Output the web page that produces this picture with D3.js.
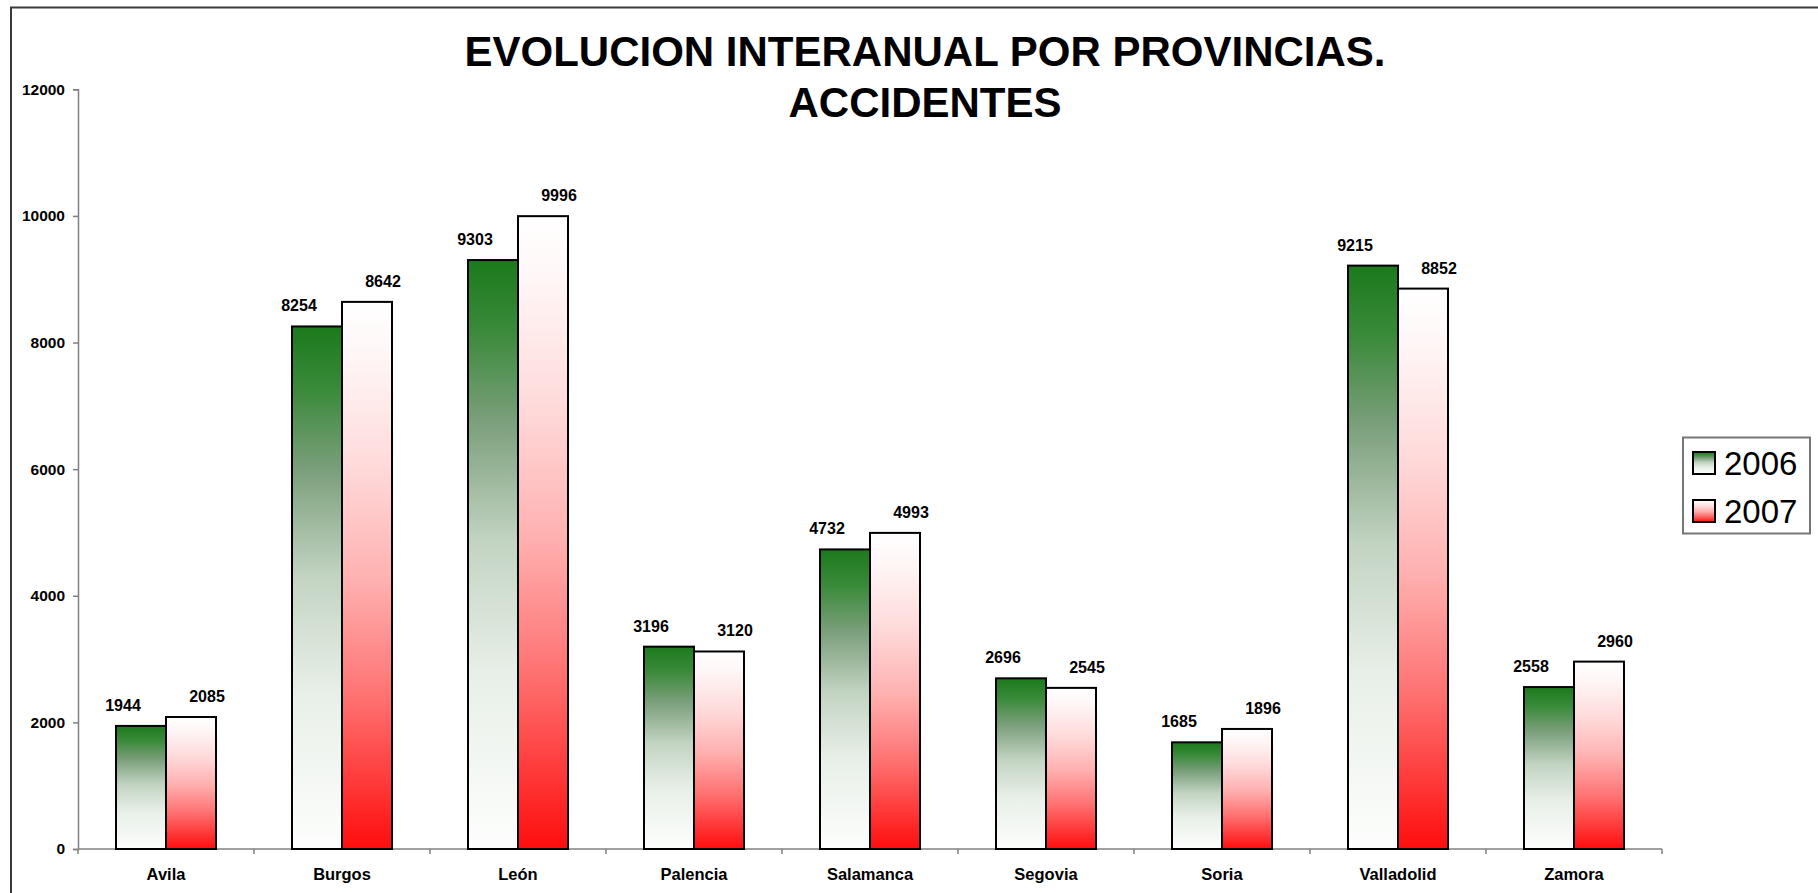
<!DOCTYPE html>
<html>
<head>
<meta charset="utf-8">
<script src="https://cdn.jsdelivr.net/npm/d3@7"></script>
<style>
  html, body { margin: 0; padding: 0; background: #ffffff; }
  svg { display: block; }
  text { font-family: "Liberation Sans", Arial, sans-serif; }
</style>
</head>
<body>
<svg id="chart" width="1818" height="893"></svg>
<script>
const categories = ["Avila", "Burgos", "León", "Palencia", "Salamanca", "Segovia", "Soria", "Valladolid", "Zamora"];
const seriesNames = ["2006", "2007"];
const values2006 = [1944, 8254, 9303, 3196, 4732, 2696, 1685, 9215, 2558];
const values2007 = [2085, 8642, 9996, 3120, 4993, 2545, 1896, 8852, 2960];
const yTicks = [0, 2000, 4000, 6000, 8000, 10000, 12000];
const titleLines = ["EVOLUCION INTERANUAL POR PROVINCIAS.", "ACCIDENTES"];

const svg = d3.select("#chart");
const W = 1818, H = 893;

// gradients
const defs = svg.append("defs");
function makeGrad(id, stops) {
  const g = defs.append("linearGradient").attr("id", id)
    .attr("x1", 0).attr("y1", 0).attr("x2", 0).attr("y2", 1);
  stops.forEach(s => g.append("stop").attr("offset", s[0]).attr("stop-color", s[1]));
}
makeGrad("grad2006", [["0%", "#1b7a1b"], ["12%", "#3a8a3a"], ["27%", "#7a9e7a"],
                      ["48%", "#c3d4c3"], ["70%", "#e8efe8"], ["100%", "#fdfefd"]]);
makeGrad("grad2007", [["0%", "#ffffff"], ["10%", "#fff6f6"], ["30%", "#ffdada"],
                      ["51%", "#ffb0b0"], ["72%", "#ff7272"], ["100%", "#ff0d0d"]]);
const fills = {"2006": "url(#grad2006)", "2007": "url(#grad2007)"};

// chart area border (left and top visible)
svg.append("rect").attr("x", 11).attr("y", 7.5).attr("width", W + 20).attr("height", H + 20)
  .attr("fill", "none").attr("stroke", "#3a3a3a").attr("stroke-width", 2);

// scales
const x0 = d3.scaleBand().domain(categories).range([78, 1662]).paddingInner(0).paddingOuter(0);
const x1 = d3.scaleBand().domain(seriesNames).range([0, x0.bandwidth()]).paddingInner(0).paddingOuter(0.76);
const y = d3.scaleLinear().domain([0, 12000]).range([849, 89.3]);

// title
svg.append("g").selectAll("text").data(titleLines).join("text")
  .attr("x", 925).attr("y", (d, i) => 66 + i * 51)
  .attr("text-anchor", "middle")
  .attr("font-size", 42).attr("font-weight", "bold").attr("fill", "#000")
  .text(d => d);

// y axis
const yAxis = d3.axisLeft(y).tickValues(yTicks).tickSize(5).tickPadding(8).tickFormat(d3.format("d"));
const gy = svg.append("g").attr("transform", "translate(78,0)").call(yAxis);
gy.select(".domain").attr("stroke", "#808080").attr("stroke-width", 1.5);
gy.selectAll(".tick line").attr("stroke", "#808080").attr("stroke-width", 1.5);
gy.selectAll(".tick text").attr("font-size", 15.5).attr("font-weight", "bold").attr("fill", "#000")
  .style("font-family", "'Liberation Sans', Arial, sans-serif");

// x axis: domain line plus ticks at band boundaries
const gx = svg.append("g").attr("transform", "translate(0,849)");
gx.append("line").attr("x1", 78).attr("x2", 1662).attr("y1", 0).attr("y2", 0)
  .attr("stroke", "#808080").attr("stroke-width", 1.5);
const boundaries = categories.map(c => x0(c)).concat([x0(categories[categories.length - 1]) + x0.bandwidth()]);
gx.selectAll("line.tk").data(boundaries).join("line").attr("class", "tk")
  .attr("x1", d => d).attr("x2", d => d).attr("y1", 0).attr("y2", 5)
  .attr("stroke", "#808080").attr("stroke-width", 1.5);
gx.selectAll("text").data(categories).join("text")
  .attr("x", d => x0(d) + x0.bandwidth() / 2).attr("y", 31)
  .attr("text-anchor", "middle").attr("font-size", 16.5).attr("font-weight", "bold").attr("fill", "#000")
  .text(d => d);

// bars
const rows = categories.map((c, i) => ({cat: c, vals: [
  {s: "2006", v: values2006[i]}, {s: "2007", v: values2007[i]}]}));
const groups = svg.append("g").selectAll("g").data(rows).join("g")
  .attr("transform", d => `translate(${x0(d.cat)},0)`);
groups.selectAll("rect").data(d => d.vals).join("rect")
  .attr("x", d => x1(d.s)).attr("width", x1.bandwidth())
  .attr("y", d => y(d.v)).attr("height", d => y(0) - y(d.v))
  .attr("fill", d => fills[d.s]).attr("stroke", "#000").attr("stroke-width", 2);
groups.selectAll("text").data(d => d.vals).join("text")
  .attr("x", d => x1(d.s) + x1.bandwidth() / 2 + (d.s === "2006" ? -18 : 16))
  .attr("y", d => y(d.v) - 15)
  .attr("text-anchor", "middle").attr("font-size", 16).attr("font-weight", "bold").attr("fill", "#000")
  .text(d => d.v);

// legend
const lg = svg.append("g");
lg.append("rect").attr("x", 1683).attr("y", 437.5).attr("width", 127).attr("height", 96)
  .attr("fill", "#fff").attr("stroke", "#777").attr("stroke-width", 2);
const li = lg.selectAll("g").data(seriesNames).join("g")
  .attr("transform", (d, i) => `translate(1693,${452 + i * 48})`);
li.append("rect").attr("width", 22).attr("height", 22)
  .attr("fill", d => fills[d]).attr("stroke", "#000").attr("stroke-width", 2);
li.append("text").attr("x", 31).attr("y", 23).attr("font-size", 33).attr("fill", "#000").text(d => d);
</script>
</body>
</html>
